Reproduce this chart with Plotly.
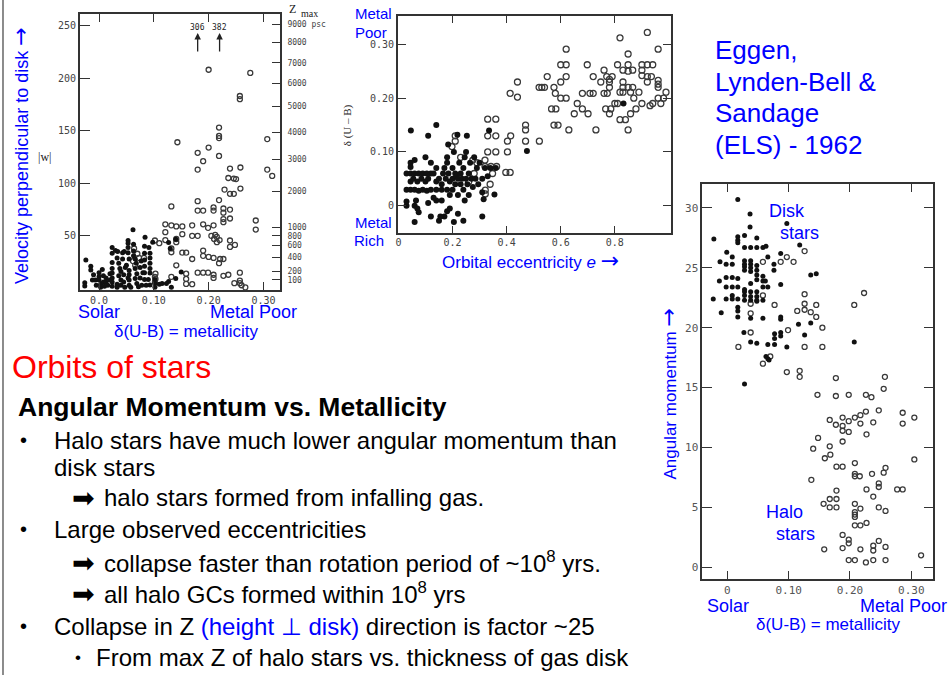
import plotly.graph_objects as go

# ---------------- data ----------------
# Panel 1: |w| (km/s) vs delta(U-B)
w_disk = [(-0.024,27),(-0.026,5.5),(-0.026,2.4),(-0.015,21),(-0.015,17.6),(-0.012,8),(-0.007,8),(-0.005,3),(-0.01,13),
          (0.0,15),(0.0,11),(0.0,8),(0.003,4),(0.003,1),(0.008,12),(0.008,6),(0.01,2),(0.013,10),(0.013,6),(0.016,3),(0.006,18),
          (0.02,14),(0.02,8),(0.024,39),(0.024,33.5),(0.024,24.6),(0.024,19),(0.024,14.6),(0.024,10),(0.024,6),(0.024,2),
          (0.03,36),(0.033,29),(0.033,4),(0.033,1),(0.036,12),(0.038,19),(0.04,16),(0.04,8),(0.04,3),(0.034,35),(0.036,24),
          (0.043,34),(0.043,28),(0.045,13),(0.045,6),(0.047,1),(0.046,35),(0.048,20),
          (0.05,22),(0.053,45.6),(0.053,43),(0.053,39),(0.053,34),(0.053,10),(0.055,28),(0.055,17),(0.055,13),(0.055,8),(0.055,3),(0.058,1),
          (0.062,55.7),(0.063,42),(0.063,35.6),(0.063,31),(0.066,28),(0.068,24),(0.066,19),(0.069,14),(0.066,9.5),(0.069,4.8),(0.072,1.5),
          (0.075,20),(0.075,10),(0.078,3),(0.08,15),(0.077,26),
          (0.083,40),(0.083,33.5),(0.083,27),(0.083,21),(0.083,15),(0.083,8.6),(0.084,48.7),(0.086,3),
          (0.091,39),(0.093,33.5),(0.093,29),(0.093,24),(0.093,19),(0.093,14.6),(0.09,8.6),(0.093,3.2),
          (0.098,44),(0.102,8.6),(0.102,4.8),(0.102,1),
          (0.11,4),(0.115,4.8),(0.123,4.8),(0.127,43.6),(0.13,38),(0.127,6.5),(0.132,1),(0.14,9.5),(0.14,46.8),(0.15,15.6)]
w_halo = [(0.2,208),(0.276,205),(0.257,183),(0.257,180),(0.219,153),(0.219,145),(0.219,143),(0.143,139),(0.307,142),(0.2,134),
          (0.18,129),(0.219,126),(0.19,121),(0.18,113),(0.239,114),(0.258,115),(0.307,113),(0.316,107),(0.236,105),(0.246,104.5),
          (0.25,104),(0.229,94),(0.239,90),(0.246,90),(0.258,95),(0.219,84),(0.18,83),(0.132,78),(0.18,74),(0.19,74),(0.209,77),
          (0.209,74),(0.227,76),(0.227,72),(0.239,75),(0.239,66.5),(0.227,66),(0.227,63),(0.286,64.6),(0.286,56),(0.121,61),
          (0.132,60),(0.141,59),(0.152,59),(0.17,60),(0.19,61),(0.199,57.6),(0.209,60),(0.121,53.5),(0.152,51.6),(0.17,50),
          (0.18,50),(0.205,50),(0.21,47),(0.215,49),(0.22,46),(0.215,44),(0.212,51),(0.102,45.6),(0.11,43),(0.121,46),(0.141,47),
          (0.141,44),(0.239,45.6),(0.239,39.5),(0.248,41.4),(0.132,38),(0.132,34.4),(0.152,34),(0.159,34),(0.19,36),(0.19,31),
          (0.2,30),(0.209,29),(0.221,28),(0.227,28),(0.219,24),(0.17,28),(0.141,22),(0.103,14),(0.103,9),(0.132,11),(0.159,14),
          (0.159,9),(0.159,4.3),(0.18,15),(0.19,15),(0.199,15),(0.209,13),(0.209,10),(0.227,12),(0.236,13),(0.257,15),(0.257,7.5),
          (0.247,5),(0.257,5),(0.26,3),(0.267,1),(0.17,4),(0.073,29),(0.082,29),(0.064,38),(0.066,22),(0.07,33),(0.102,11),
          (0.102,6),(0.062,26)]
w_ticks = [50, 100, 150, 200, 250]
metal_ticks = [0.0, 0.1, 0.2, 0.3]
metal_ticktext1 = ["0.0", "0.10", "0.20", "0.30"]
zmax_labels = ["9000 psc", "8000", "7000", "6000", "5000", "4000", "3000", "2000", "1000", "800", "600", "400", "200", "100"]
zmax_at_w = [251, 234, 214.5, 194.8, 173, 148.7, 123, 92.6, 57.9, 50, 41.1, 29.7, 16, 8.1]
offscale_x = [0.18, 0.22]
offscale_w = [306, 382]

# Panel 2: delta(U-B) vs orbital eccentricity e
e_disk = [(0.03,0.06),(0.045,0.06),(0.06,0.06),(0.075,0.06),(0.09,0.06),(0.105,0.06),(0.12,0.06),
          (0.03,0.03),(0.045,0.03),(0.06,0.03),(0.075,0.028),(0.09,0.03),(0.105,0.028),(0.12,0.03),(0.14,0.03),(0.16,0.03),
          (0.18,0.03),(0.2,0.03),(0.045,0.08),(0.045,0.072),(0.045,0.045),(0.055,0.05),(0.07,0.045),(0.085,0.05),(0.1,0.045),
          (0.11,0.05),(0.03,0.0),(0.03,0.008),(0.06,0.0),(0.065,0.01),(0.07,-0.005),(0.075,-0.012),(0.06,-0.03),(0.12,-0.02),
          (0.14,0.01),(0.15,-0.028),(0.16,0.01),(0.17,-0.02),(0.18,-0.01),(0.19,-0.005),(0.205,-0.03),(0.22,-0.015),
          (0.24,-0.028),(0.245,0.01),(0.31,-0.02),(0.315,0.012),(0.355,0.021),(0.13,0.06),(0.14,0.07),(0.14,0.045),
          (0.15,0.05),(0.16,0.04),(0.165,0.06),(0.17,0.07),(0.175,0.05),(0.18,0.09),(0.18,0.08),(0.185,0.06),(0.19,0.045),
          (0.19,0.02),(0.2,0.05),(0.2,0.07),(0.205,0.1),(0.21,0.06),(0.21,0.04),(0.215,0.055),(0.22,0.05),(0.22,0.02),
          (0.225,0.08),(0.23,0.06),(0.23,0.04),(0.235,0.05),(0.24,0.07),(0.24,0.03),(0.245,0.09),(0.25,0.05),(0.25,0.1),
          (0.255,0.04),(0.26,0.06),(0.26,0.02),(0.265,0.08),(0.27,0.05),(0.275,0.035),(0.28,0.09),(0.285,0.05),(0.29,0.07),
          (0.295,0.04),(0.3,0.08),(0.31,0.05),(0.31,0.025),(0.32,0.07),(0.33,0.055),(0.335,0.14),(0.34,0.07),(0.36,0.07),
          (0.046,0.14),(0.11,0.13),(0.14,0.15),(0.184,0.114),(0.218,0.132),(0.253,0.13),(0.475,0.102),(0.832,0.19),
          (0.1,0.09),(0.12,0.08),(0.06,0.085),(0.11,0.005),(0.13,0.015),(0.155,-0.02)]
e_halo = [(0.92,0.322),(0.819,0.312),(0.62,0.291),(0.96,0.291),(0.849,0.282),(0.6,0.262),(0.62,0.262),(0.698,0.262),
          (0.81,0.262),(0.849,0.262),(0.9,0.262),(0.92,0.262),(0.94,0.262),(0.83,0.252),(0.866,0.252),(0.849,0.25),
          (0.76,0.252),(0.9,0.252),(0.55,0.24),(0.62,0.24),(0.72,0.24),(0.77,0.24),(0.78,0.235),(0.79,0.24),(0.9,0.242),
          (0.92,0.24),(0.935,0.24),(0.44,0.23),(0.6,0.23),(0.748,0.23),(0.78,0.23),(0.83,0.23),(0.96,0.233),(0.96,0.226),
          (0.92,0.23),(0.52,0.22),(0.53,0.22),(0.54,0.22),(0.575,0.22),(0.78,0.22),(0.83,0.22),(0.849,0.22),(0.866,0.22),
          (0.96,0.22),(0.413,0.209),(0.44,0.202),(0.58,0.209),(0.68,0.209),(0.708,0.209),(0.72,0.209),(0.76,0.209),
          (0.772,0.209),(0.819,0.211),(0.83,0.211),(0.858,0.211),(0.889,0.211),(0.989,0.211),(0.6,0.2),(0.62,0.2),
          (0.87,0.2),(0.96,0.2),(0.98,0.2),(0.661,0.19),(0.8,0.19),(0.81,0.19),(0.9,0.19),(0.94,0.19),(0.97,0.19),
          (0.566,0.18),(0.582,0.18),(0.68,0.18),(0.766,0.18),(0.785,0.18),(0.878,0.18),(0.93,0.186),(0.65,0.171),
          (0.701,0.171),(0.78,0.171),(0.858,0.171),(0.575,0.15),(0.59,0.15),(0.819,0.16),(0.839,0.16),(0.33,0.161),
          (0.36,0.161),(0.47,0.15),(0.47,0.141),(0.63,0.141),(0.73,0.141),(0.849,0.141),(0.33,0.13),(0.36,0.13),
          (0.415,0.13),(0.403,0.12),(0.521,0.12),(0.47,0.12),(0.198,0.11),(0.33,0.1),(0.36,0.1),(0.403,0.1),
          (0.32,0.073),(0.342,0.073),(0.363,0.073),(0.348,0.06),(0.397,0.062),(0.413,0.062),(0.339,0.04),(0.321,0.029),
          (0.321,0.022),(0.28,0.06),(0.275,0.085),(0.29,0.08),(0.21,0.13),(0.21,0.12),(0.23,0.09),(0.26,0.045),(0.32,0.085)]
ecc_ticks = [0, 0.2, 0.4, 0.6, 0.8]
ecc_ticktext = ["0", "0.2", "0.4", "0.6", "0.8"]
dub_ticks = [0, 0.1, 0.2, 0.3]
dub_ticktext = ["0", "0.10", "0.20", "0.30"]

# Panel 3: angular momentum vs delta(U-B)
h_disk = [(0.017,30.7),(-0.022,27.4),(0.037,29.5),(0.037,28.4),(0.097,28.7),(0.118,26.9),(0.017,27.6),(0.017,27.3),
          (0.017,27.1),(0.028,27.7),(0.048,27.5),(-0.001,26.3),(-0.012,25.5),(0.008,25.9),(0.028,26.7),(0.038,26.7),
          (0.048,26.7),(0.058,26.7),(0.063,26.8),(0.066,25.9),(0.087,26.2),(-0.002,25.3),(0.008,25.3),(0.028,25.6),
          (0.028,25.3),(0.028,25.1),(0.028,24.8),(0.038,25.6),(0.038,25.3),(0.038,25.0),(0.038,24.7),(0.048,25.2),
          (0.048,24.8),(0.048,24.4),(0.048,24.0),(0.058,24.3),(0.058,23.9),(0.062,23.9),(0.076,25.3),(0.076,24.8),
          (0.136,24.4),(0.145,24.5),(-0.013,23.9),(-0.002,24.2),(0.008,24.2),(0.017,24.1),(0.038,23.7),(-0.002,23.4),
          (0.008,23.4),(0.017,23.4),(0.028,23.2),(0.028,23.0),(0.028,22.7),(0.038,23.0),(0.038,22.6),(0.038,22.3),
          (0.048,23.0),(0.048,22.6),(0.048,22.2),(0.058,23.4),(0.066,23.4),(0.087,23.6),(-0.023,22.4),(-0.002,22.4),
          (0.008,22.7),(0.008,22.4),(0.017,22.4),(0.017,21.7),(0.017,21.4),(0.028,22.3),(0.048,22.3),(0.058,22.3),
          (-0.01,21.25),(0.017,20.9),(0.038,20.8),(0.058,20.8),(0.087,20.9),(0.087,20.7),(0.116,20.3),(0.136,20.4),
          (0.027,19.6),(0.038,18.8),(0.048,18.7),(0.066,18.6),(0.077,18.6),(0.077,19.1),(0.077,19.5),(0.087,19.6),
          (0.087,19.3),(0.097,18.4),(0.126,19.4),(0.063,17.6),(0.066,17.4),(0.068,17.3),(0.028,15.3),(0.207,18.8)]
h_halo = [(0.097,25.9),(0.108,25.5),(0.126,26.4),(0.087,25.5),(0.058,25.5),(0.058,22.7),(0.038,22.0),(0.038,21.2),
          (0.038,19.6),(0.077,21.9),(0.223,22.9),(0.207,21.9),(0.126,22.8),(0.126,22.0),(0.126,21.5),(0.126,18.4),
          (0.114,21.4),(0.136,21.3),(0.145,20.9),(0.145,21.9),(0.155,20.0),(0.155,18.4),(0.099,19.8),(0.018,18.4),
          (0.058,17.0),(0.07,17.6),(0.097,16.3),(0.118,16.4),(0.118,15.9),(0.147,14.4),(0.177,15.8),(0.177,14.3),
          (0.198,14.4),(0.226,14.4),(0.235,14.2),(0.257,15.9),(0.255,14.9),(0.167,12.3),(0.177,11.9),(0.188,12.5),
          (0.188,11.8),(0.188,11.4),(0.198,12.2),(0.198,11.3),(0.208,12.5),(0.217,12.7),(0.217,12.0),(0.226,13.0),
          (0.227,11.1),(0.238,12.1),(0.247,13.1),(0.286,12.9),(0.286,12.0),(0.305,12.5),(0.305,9.0),(0.148,10.8),
          (0.14,9.9),(0.167,10.1),(0.168,9.4),(0.159,9.1),(0.188,10.5),(0.178,8.4),(0.188,8.4),(0.208,8.7),(0.208,7.8),
          (0.208,7.6),(0.216,7.6),(0.236,7.8),(0.255,7.9),(0.258,8.3),(0.137,7.3),(0.178,6.4),(0.227,6.5),(0.247,7.0),
          (0.247,6.7),(0.277,6.5),(0.286,6.5),(0.238,5.9),(0.157,5.3),(0.167,5.7),(0.178,5.7),(0.167,5.0),(0.178,5.0),
          (0.208,5.3),(0.208,4.6),(0.208,4.4),(0.208,4.2),(0.217,4.9),(0.247,5.0),(0.258,4.7),(0.208,3.5),(0.217,3.5),
          (0.227,3.7),(0.188,2.7),(0.198,2.3),(0.198,2.0),(0.247,2.2),(0.158,1.5),(0.188,1.6),(0.217,1.5),(0.238,1.8),
          (0.238,1.4),(0.258,1.7),(0.198,0.6),(0.208,0.6),(0.226,0.4),(0.238,0.6),(0.258,0.6),(0.316,1.0)]
am_ticks = [0, 5, 10, 15, 20, 25, 30]
metal_ticktext3 = ["0", "0.10", "0.20", "0.30"]

# ---------------- figure ----------------
W, H = 950, 675
def PX(x): return x / W
def PY(y): return 1 - y / H

SANS = "Arial, 'Liberation Sans', Helvetica, sans-serif"
MONO = "'DejaVu Sans Mono', 'Liberation Mono', monospace"
SERIF = "'Liberation Serif', 'DejaVu Serif', serif"
BLUE = "#0000ff"
RED = "#ff0000"
ARROW = "<span style='font-family:DejaVu Sans;font-size:22px'>\u2192</span>"

fig = go.Figure()

def add_pts(pts, xa, ya, hollow, size):
    xs = [p[0] for p in pts]
    ys = [p[1] for p in pts]
    if hollow:
        m = dict(symbol="circle-open", size=size, color="#3a3a3a", line=dict(width=1.3))
    else:
        m = dict(symbol="circle", size=size, color="#111111", line=dict(width=0))
    fig.add_trace(go.Scatter(x=xs, y=ys, mode="markers", marker=m, xaxis=xa, yaxis=ya,
                             hoverinfo="skip", showlegend=False))

add_pts(w_halo, "x", "y", True, 5)
add_pts(w_disk, "x", "y", False, 5)
add_pts(e_halo, "x2", "y2", True, 6)
add_pts(e_disk, "x2", "y2", False, 6)
add_pts(h_halo, "x3", "y3", True, 5)
add_pts(h_disk, "x3", "y3", False, 5)
# invisible trace so the right-hand Z_max axis is drawn
fig.add_trace(go.Scatter(x=[w_halo[0][0]], y=[w_halo[0][1]], mode="markers", marker=dict(opacity=0),
                         xaxis="x", yaxis="y4", hoverinfo="skip", showlegend=False))

ax_common = dict(showgrid=False, zeroline=False, showline=True, linecolor="#333", linewidth=1.5,
                 ticks="inside", tickcolor="#333", tickwidth=1.3,
                 tickfont=dict(family=MONO, size=10, color="#444"))

fig.update_layout(
    width=W, height=H, margin=dict(l=0, r=0, t=0, b=0),
    paper_bgcolor="white", plot_bgcolor="white", showlegend=False,
    xaxis=dict(**ax_common, domain=[PX(78), PX(279)], range=[-0.035, 0.331], anchor="y",
               mirror="ticks", ticklen=8, tickvals=metal_ticks, ticktext=metal_ticktext1),
    yaxis=dict(**ax_common, domain=[PY(290), PY(14)], range=[-1.5, 261], anchor="x",
               mirror=True, ticklen=10, tickvals=w_ticks),
    yaxis4=dict(showgrid=False, zeroline=False, showline=False, overlaying="y", anchor="x", side="right",
                range=[-1.5, 261], autorange=False, ticks="inside", ticklen=8, tickcolor="#333", tickwidth=1.3,
                tickmode="array", tickvals=zmax_at_w, ticktext=zmax_labels, ticklabelstandoff=6,
                tickfont=dict(family=MONO, size=8, color="#444")),
    xaxis2=dict(**ax_common, domain=[PX(396.7), PX(670)], range=[-0.002, 1.006], anchor="y2",
                mirror="ticks", ticklen=7, tickvals=ecc_ticks, ticktext=ecc_ticktext),
    yaxis2=dict(**ax_common, domain=[PY(232.7), PY(16)], range=[-0.05, 0.3526], anchor="x2",
                mirror="ticks", ticklen=8, tickvals=dub_ticks, ticktext=dub_ticktext),
    xaxis3=dict(**ax_common, domain=[PX(701.7), PX(933.3)], range=[-0.041, 0.336], anchor="y3",
                mirror="ticks", ticklen=8, tickvals=metal_ticks, ticktext=metal_ticktext3),
    yaxis3=dict(**ax_common, domain=[PY(579), PY(184)], range=[-0.98, 32], anchor="x3",
                mirror="ticks", ticklen=10, tickvals=am_ticks),
)
fig.update_yaxes(tickfont=dict(size=11, color="#555"), selector=dict(anchor="x3"))
fig.update_xaxes(tickfont=dict(size=11, color="#555"), selector=dict(anchor="y3"))

anns = []
def txt(text, x, y, size, color="black", xanchor="center", family=SANS, angle=0, yanchor="middle"):
    anns.append(dict(text=text, x=PX(x), y=PY(y), xref="paper", yref="paper", showarrow=False,
                     xanchor=xanchor, yanchor=yanchor, textangle=angle, borderpad=0,
                     font=dict(family=family, size=size, color=color)))

# Panel 1 labels
txt("Velocity perpendicular to disk " + ARROW, 18, 155, 18, BLUE, angle=-90)
txt("|w|", 43, 157, 12, "#222", family=SERIF)
txt("Z", 291, 9, 12, "#222", family=SERIF)
txt("max", 308, 13, 10, "#222", family=SERIF)
txt("Solar", 97, 312, 18, BLUE)
txt("Metal Poor", 252, 312, 18, BLUE)
txt("\u03b4(U-B) = metallicity", 185, 331, 17, BLUE)
for xv, wv in zip(offscale_x, offscale_w):
    anns.append(dict(text=str(wv), x=xv, y=PY(28), xref="x", yref="paper", showarrow=False,
                     xanchor="center", yanchor="middle", font=dict(family=MONO, size=8, color="#222")))
    anns.append(dict(text="", x=xv, y=243, ax=xv, ay=224, xref="x", yref="y", axref="x", ayref="y",
                     showarrow=True, arrowhead=2, arrowsize=1, arrowwidth=1.3, arrowcolor="#222"))

# Panel 2 labels
txt("Metal", 372, 14, 15, BLUE)
txt("Poor", 370, 33, 15, BLUE)
txt("Metal", 372, 222, 15, BLUE)
txt("Rich", 368, 240, 15, BLUE)
txt("\u03b4 (U \u2013 B)", 347, 125, 11, "#222", family=SERIF, angle=-90)
txt("Orbital eccentricity <i>e</i> " + ARROW, 530, 260, 17, BLUE)

# Panel 3 labels
for i, line in enumerate(["Eggen,", "Lynden-Bell &", "Sandage", "(ELS) - 1962"]):
    txt(line, 714, 50 + i * 31.7, 26, BLUE, xanchor="left")
txt("Angular momentum " + ARROW, 667, 394, 17, BLUE, angle=-90)
txt("Disk", 787, 211, 18, BLUE)
txt("stars", 799, 233, 18, BLUE)
txt("Halo", 784, 512, 18, BLUE)
txt("stars", 795, 534, 18, BLUE)
txt("Solar", 728, 606, 18, BLUE)
txt("Metal Poor", 903, 606, 18, BLUE)
txt("\u03b4(U-B) = metallicity", 828, 624, 17, BLUE)

# Slide text
txt("Orbits of stars", 9, 367, 32, RED, xanchor="left")
txt("<b>Angular Momentum vs. Metallicity</b>", 15, 407, 26.5, "black", xanchor="left")
BODY = 24
for yb in [440, 529, 626]:
    txt("\u2022", 22, yb, 20, "black")
txt("Halo stars have much lower angular momentum than", 51, 440, BODY, xanchor="left")
txt("disk stars", 51, 467, BODY, xanchor="left")
for ya in [497, 562, 593]:
    txt("\u27a1", 82, ya, 27, "black", family="'DejaVu Sans'")
txt("halo stars formed from infalling gas.", 101, 497, BODY, xanchor="left")
txt("Large observed eccentricities", 51, 529, BODY, xanchor="left")
txt("collapse faster than rotation period of ~10<sup>8</sup> yrs.", 101, 562, BODY, xanchor="left")
txt("all halo GCs formed within 10<sup>8</sup> yrs", 101, 593, BODY, xanchor="left")
txt("Collapse in Z <span style='color:#0000ff'>(height \u22a5 disk)</span> direction is factor ~25",
    51, 626, BODY, xanchor="left")
txt("\u2022", 76, 657, 17, "black")
txt("From max Z of halo stars vs. thickness of gas disk", 93, 657, BODY, xanchor="left")

fig.update_layout(annotations=anns,
                  shapes=[dict(type="line", xref="paper", yref="paper", x0=PX(1), x1=PX(1), y0=0, y1=1,
                               line=dict(color="#666", width=1.5))])

fig.write_html("out.html")
